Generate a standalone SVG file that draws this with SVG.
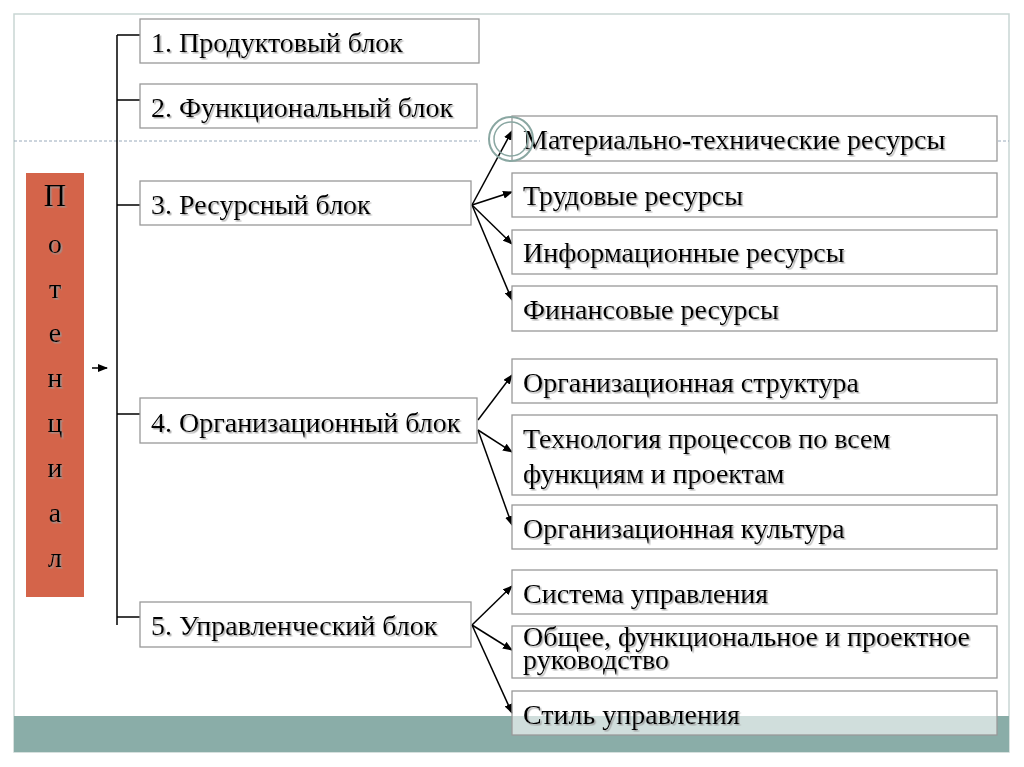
<svg xmlns="http://www.w3.org/2000/svg" width="1024" height="767" viewBox="0 0 1024 767">
<defs>
<marker id="ah" markerWidth="10" markerHeight="8" refX="9" refY="4" orient="auto" markerUnits="userSpaceOnUse"><path d="M0,0 L10,4 L0,8 z" fill="#000"/></marker>
<filter id="sh" x="-5%" y="-20%" width="110%" height="140%"><feDropShadow dx="1.5" dy="1.5" stdDeviation="0.6" flood-color="#999" flood-opacity="0.8"/></filter>
</defs>
<style>
.b{fill:#fff;stroke:#999;stroke-width:1.3}
.t{font-family:"Liberation Serif",serif;font-size:28px;fill:#000;filter:url(#sh)}
.c{stroke:#000;stroke-width:1.5;fill:none}
.a{stroke:#000;stroke-width:1.5;fill:none;marker-end:url(#ah)}
</style>
<rect width="1024" height="767" fill="#fff"/>
<rect x="14" y="14" width="995" height="738" fill="none" stroke="#c9d6d4" stroke-width="1.5"/>
<rect x="14" y="716" width="995" height="36" fill="#8aada8"/>
<line x1="14" y1="141" x2="480" y2="141" stroke="#9ab" stroke-width="1" stroke-dasharray="3,2"/>
<line x1="998" y1="141" x2="1009" y2="141" stroke="#9ab" stroke-width="1" stroke-dasharray="3,2"/>
<g id="connectors">
<path class="c" d="M117,35 V625 M117,35 H140 M117,100 H140 M117,205 H140 M117,414 H140 M117,617 H140"/>
<line class="a" x1="92" y1="368" x2="107" y2="368"/>
<line class="a" x1="472" y1="205" x2="512" y2="131"/>
<line class="a" x1="472" y1="205" x2="512" y2="192"/>
<line class="a" x1="472" y1="205" x2="512" y2="244"/>
<line class="a" x1="472" y1="205" x2="512" y2="300"/>
<line class="a" x1="478" y1="420" x2="512" y2="375"/>
<line class="a" x1="478" y1="430" x2="512" y2="452"/>
<line class="a" x1="478" y1="430" x2="512" y2="525"/>
<line class="a" x1="472" y1="625" x2="512" y2="586"/>
<line class="a" x1="472" y1="625" x2="512" y2="650"/>
<line class="a" x1="472" y1="625" x2="512" y2="713"/>
</g>
<g id="potential"><rect x="26" y="173" width="58" height="424" fill="#d4644a"/>
<g text-anchor="middle">
<text x="55" y="206" class="t" style="font-size:31px">П</text>
<text x="55" y="253" class="t" style="font-size:28px">о</text>
<text x="55" y="298" class="t" style="font-size:28px">т</text>
<text x="55" y="342" class="t" style="font-size:28px">е</text>
<text x="55" y="387" class="t" style="font-size:28px">н</text>
<text x="55" y="432" class="t" style="font-size:28px">ц</text>
<text x="55" y="477" class="t" style="font-size:28px">и</text>
<text x="55" y="522" class="t" style="font-size:28px">а</text>
<text x="55" y="567" class="t" style="font-size:28px">л</text>
</g></g>
<g id="b1"><rect class="b" x="140" y="19" width="339" height="44"/><text class="t" x="151" y="52">1. Продуктовый блок</text></g>
<g id="b2"><rect class="b" x="140" y="84" width="337" height="44"/><text class="t" x="151" y="117">2. Функциональный блок</text></g>
<g id="b3"><rect class="b" x="140" y="181" width="331" height="44"/><text class="t" x="151" y="214">3. Ресурсный блок</text></g>
<g id="b4"><rect class="b" x="140" y="398" width="337" height="45"/><text class="t" x="151" y="432">4. Организационный блок</text></g>
<g id="b5"><rect class="b" x="140" y="602" width="331" height="45"/><text class="t" x="151" y="635">5. Управленческий блок</text></g>
<g id="r1"><rect class="b" x="512" y="116" width="485" height="45"/><text class="t" x="523" y="149">Материально-технические ресурсы</text></g>
<g id="r2"><rect class="b" x="512" y="173" width="485" height="44"/><text class="t" x="523" y="205">Трудовые ресурсы</text></g>
<g id="r3"><rect class="b" x="512" y="230" width="485" height="44"/><text class="t" x="523" y="262">Информационные ресурсы</text></g>
<g id="r4"><rect class="b" x="512" y="286" width="485" height="45"/><text class="t" x="523" y="319">Финансовые ресурсы</text></g>
<g id="o1"><rect class="b" x="512" y="359" width="485" height="44"/><text class="t" x="523" y="392">Организационная структура</text></g>
<g id="o2"><rect class="b" x="512" y="415" width="485" height="80"/><text class="t" x="523" y="448">Технология процессов по всем</text><text class="t" x="523" y="483">функциям и проектам</text></g>
<g id="o3"><rect class="b" x="512" y="505" width="485" height="44"/><text class="t" x="523" y="538">Организационная культура</text></g>
<g id="u1"><rect class="b" x="512" y="570" width="485" height="44"/><text class="t" x="523" y="603">Система управления</text></g>
<g id="u2"><rect class="b" x="512" y="626" width="485" height="52"/><text class="t" x="523" y="646">Общее, функциональное и проектное</text><text class="t" x="523" y="669">руководство</text></g>
<g id="u3"><rect class="b" x="512" y="691" width="485" height="44" fill-opacity="0.6"/><text class="t" x="523" y="724">Стиль управления</text></g>
<circle cx="511" cy="139" r="22" fill="none" stroke="#8aa7a2" stroke-width="2"/>
<circle cx="511" cy="139" r="17" fill="none" stroke="#8aa7a2" stroke-width="1.5"/>
</svg>
